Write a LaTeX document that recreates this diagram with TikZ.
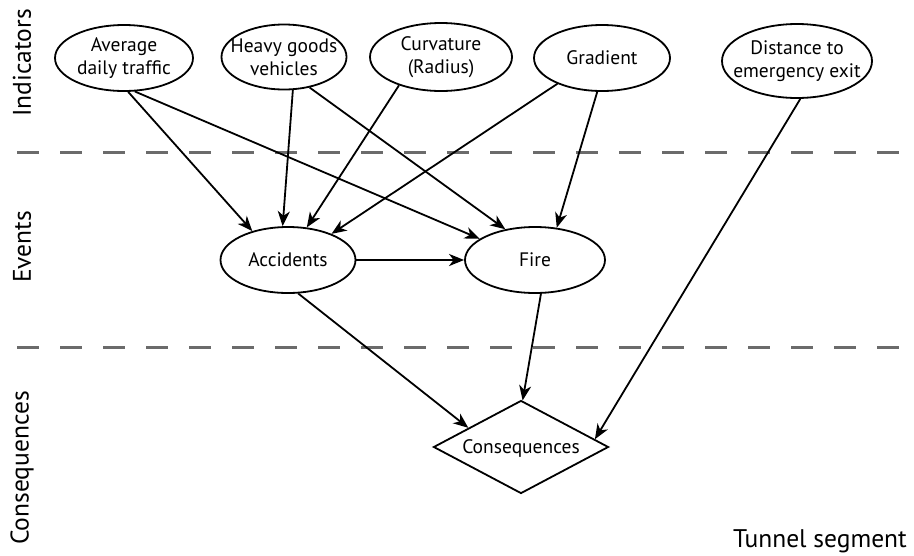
\documentclass[tikz,border=0pt]{standalone}
\usepackage{fontspec}
\setmainfont{PT Sans}
\usetikzlibrary{shapes.geometric,arrows.meta}
\begin{document}
\begin{tikzpicture}[x=1pt,y=-1pt,
  ev/.style={ellipse,draw,line width=1.8pt,inner sep=0pt},
  txt/.style={align=center,font=\fontsize{19.5}{23}\selectfont},
  arr/.style={line width=1.8pt,-{Stealth[length=15pt,width=12pt,inset=4.5pt]}},
  sep/.style={draw=black!58,line width=3pt,dash pattern=on 22pt off 21pt},
  lab/.style={font=\fontsize{25.5}{28}\selectfont}]
\useasboundingbox (0,0) rectangle (914,555);
% separators
\coordinate (s1a) at (17,152); \coordinate (s1b) at (900,152);
\coordinate (s2a) at (17,347); \coordinate (s2b) at (900,347);
\draw[sep] (s1a) -- (s1b);
\draw[sep] (s2a) -- (s2b);
% row labels
\node[lab,rotate=90] (lind) at (22,63) {Indicators};
\node[lab,rotate=90] (lev) at (22,247) {Events};
\node[lab,rotate=90] (lcon) at (22,468) {Consequences};
\node[lab,anchor=south east,inner sep=0pt] (tun) at (907,553) {Tunnel segment};
% indicators
\node[ev,minimum width=138pt,minimum height=66pt,label={[txt]center:Average\\daily traffic}] (adt) at (124,58) {};
\node[ev,minimum width=125pt,minimum height=65pt,label={[txt]center:Heavy goods\\vehicles}] (hgv) at (284,57) {};
\node[ev,minimum width=142pt,minimum height=68pt,label={[txt]center:Curvature\\(Radius)}] (cur) at (441,57) {};
\node[ev,minimum width=136pt,minimum height=66pt,label={[txt]center:Gradient}] (gra) at (602,58) {};
\node[ev,minimum width=150pt,minimum height=74pt,label={[txt]center:Distance to\\emergency exit}] (dis) at (797,61) {};
% events
\node[ev,minimum width=135pt,minimum height=66pt,label={[txt]center:Accidents}] (acc) at (288,260) {};
\node[ev,minimum width=140pt,minimum height=66pt,label={[txt]center:Fire}] (fire) at (535,260) {};
% consequence
\node[diamond,draw,line width=1.8pt,inner sep=0pt,aspect=1.88,minimum width=175pt,minimum height=93pt,label={[txt,yshift=-2pt]center:Consequences}] (con) at (521,447) {};
% arrows
\draw[arr] (adt.-83) -- (acc.141);
\draw[arr] (adt.-72) -- (fire.159);
\draw[arr] (hgv.-75) -- (acc.99);
\draw[arr] (hgv.-50) -- (fire.134);
\draw[arr] (cur.-146.6) -- (acc.60);
\draw[arr] (gra.-150.5) -- (acc.31);
\draw[arr] (gra.-98.6) -- (fire.56);
\draw[arr,line width=2.4pt] (acc.0) -- (fire.180);
\draw[arr] (acc.-73) -- (con.160);
\draw[arr] (fire.-80) -- (con.88);
\draw[arr] (dis.-85) -- (con.6.5);
\end{tikzpicture}
\end{document}
